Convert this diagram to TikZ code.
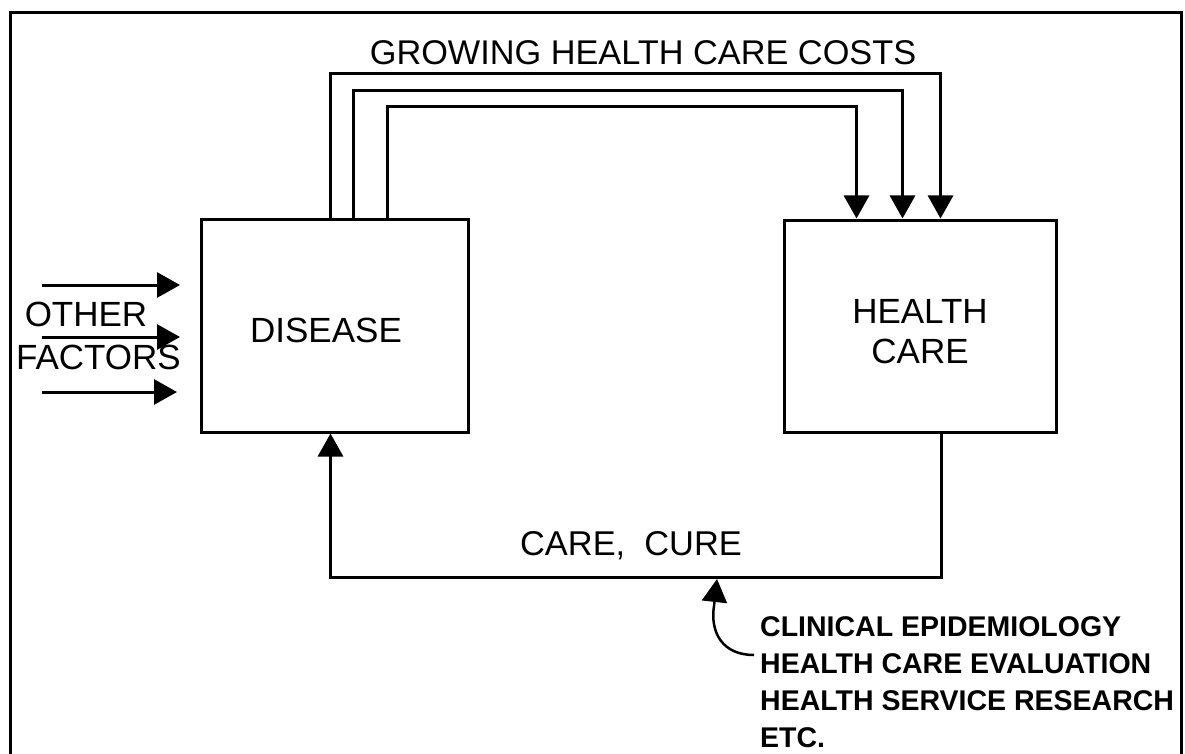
\documentclass[tikz,border=0pt]{standalone}
\usepackage{fontspec}
\setmainfont{Liberation Sans}
\usetikzlibrary{arrows.meta}
\begin{document}
\begin{tikzpicture}[x=1pt,y=-1pt,
  conn/.style={line width=3pt, -{Triangle[length=23pt,width=25pt]}},
  plain/.style={line width=3pt},
  box/.style={draw, line width=3pt, rectangle, inner sep=0pt},
  lbl/.style={inner sep=0pt, font=\fontsize{35}{40}\selectfont, align=center},
  note/.style={inner sep=0pt, font=\fontsize{28.5}{37}\selectfont\bfseries, align=left}]
\useasboundingbox (0,0) rectangle (1185,754);
\clip (0,0) rectangle (1185,754);
% frame
\draw[plain] (10,13) rectangle (1181,800);
% boxes
\node[box, minimum width=267pt, minimum height=213pt] (disease) at (334.5,325.5) {};
\node[box, minimum width=272pt, minimum height=212pt] (hc) at (920,326) {};
% labels
\node[lbl] (tdisease) at (326,330) {DISEASE};
\node[lbl] (thc) at (920,332) {HEALTH\\CARE};
\node[lbl, font=\fontsize{34.3}{40}\selectfont] (tcosts) at (643,53) {GROWING HEALTH CARE COSTS};
\node[lbl, font=\fontsize{34.4}{40}\selectfont] (tcare) at (631,546) {CARE,\ \ CURE};
% cost arrows
\draw[conn] ([xshift=131pt]disease.north west) -- ++(0,-144) -| ([xshift=158pt]hc.north west);
\draw[conn] ([xshift=154pt]disease.north west) -- ++(0,-127) -| ([xshift=120pt]hc.north west);
\draw[conn] ([xshift=188pt]disease.north west) -- ++(0,-111) -| ([xshift=74pt]hc.north west);
% care cure loop
\draw[conn] ([xshift=159pt]hc.south west) -- ++(0,144) -| ([xshift=131pt]disease.south west);
% other factors
\coordinate (o1s) at (42,285); \coordinate (o1e) at (180,285);
\coordinate (o2s) at (42,337); \coordinate (o2e) at (180,337);
\coordinate (o3s) at (42,392); \coordinate (o3e) at (177,392);
\draw[conn] (o1s) -- (o1e);
\draw[conn] (o2s) -- (o2e);
\draw[conn] (o3s) -- (o3e);
\node[lbl] (tother) at (86,314) {OTHER};
\node[lbl] (tfactors) at (98.5,357) {FACTORS};
% methods note
\node[note, anchor=north west] (tnote) at (760,616.5) {CLINICAL EPIDEMIOLOGY\\HEALTH CARE EVALUATION\\HEALTH SERVICE RESEARCH\\ETC.};
\coordinate (cstart) at (754,655);
\coordinate (ctip) at (717,579);
\draw[line width=2.5pt, -{Triangle[length=23pt,width=25pt]}] (cstart) .. controls (722,655) and (710,632) .. (714,606) -- (ctip);
\end{tikzpicture}
\end{document}
